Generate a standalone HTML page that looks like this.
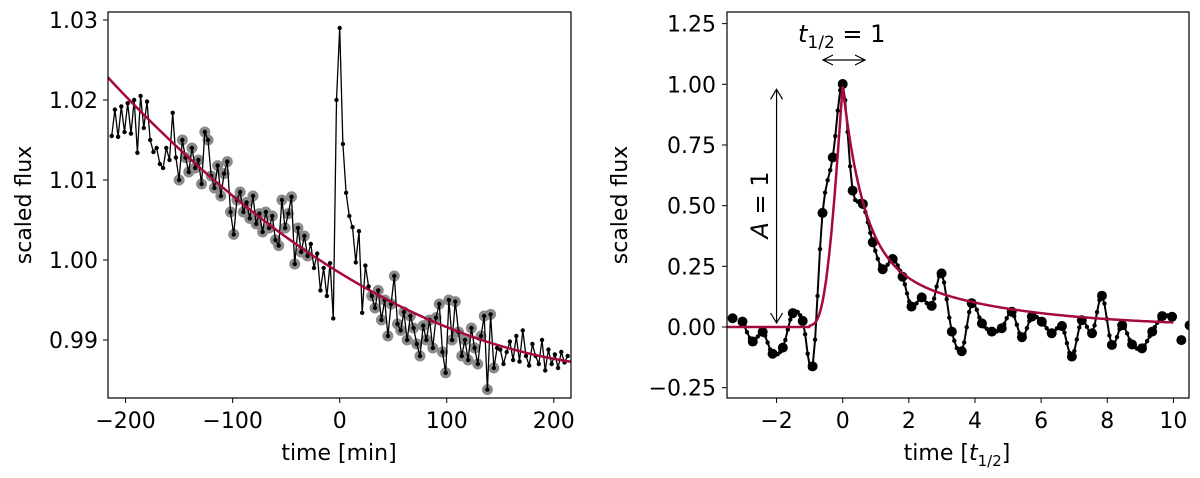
<!DOCTYPE html>
<html><head><meta charset="utf-8"><style>
html,body{margin:0;padding:0;background:#fff;}
svg{display:block;font-family:"DejaVu Sans","Liberation Sans",sans-serif;}
</style></head><body>
<svg id="fig" width="1200" height="478" viewBox="0 0 1200 478" xmlns="http://www.w3.org/2000/svg">
<g id="left"></g>
<g id="right"></g>
</svg>
<script>
// ---------- LEFT PANEL DATA ----------
const leftStart = -213, leftStep = 3;
const leftFlux = [
1.0155,1.0188,1.0154,1.0192,1.0160,1.0196,1.0158,1.0200,1.0134,1.0205,
1.0165,1.0198,1.0150,1.0135,1.0140,1.0120,1.0115,1.0140,1.0125,1.0184,
1.0128,1.0100,1.0150,1.0128,1.0110,1.0140,1.0115,1.0125,1.0095,1.0160,
1.0150,1.0105,1.0090,1.0118,1.0080,1.0108,1.0123,1.0060,1.0032,1.0075,
1.0085,1.0060,1.0072,1.0052,1.0080,1.0045,1.0058,1.0035,1.0060,1.0040,
1.0055,1.0025,1.0018,1.0075,1.0040,1.0058,1.0079,0.9995,1.0040,1.0010,
1.0030,1.0005,1.0020,0.9990,1.0008,0.9962,0.9990,0.9955,0.9996,0.9927,
1.0200,1.0290,1.0145,1.0084,1.0055,1.0041,0.9997,1.0036,0.9934,0.9993,
0.9967,0.9955,0.9940,0.9962,0.9925,0.9950,0.9905,0.9945,0.9980,0.9920,
0.9912,0.9935,0.9900,0.9930,0.9915,0.9895,0.9880,0.9918,0.9900,0.9925,
0.9890,0.9928,0.9945,0.9885,0.9859,0.9950,0.9900,0.9948,0.9910,0.9880,
0.9900,0.9875,0.9915,0.9890,0.9870,0.9905,0.9930,0.9838,0.9932,0.9865,
0.9890,0.9888,0.9870,0.9885,0.9898,0.9875,0.9905,0.9873,0.9912,0.9880,
0.9868,0.9895,0.9880,0.9870,0.9900,0.9862,0.9888,0.9870,0.9882,0.9865,
0.9885,0.9872,0.9880];
const highlightRanges = [[-150,-30],[28,145]];
const trendCoef = [0.9984, -8.21e-5, 1.417e-7];
const leftXTicks = [-200,-100,0,100,200];
const leftXTickLabels = ["\u2212200","\u2212100","0","100","200"];
const leftYTicks = [0.99,1.00,1.01,1.02,1.03];
const leftYTickLabels = ["0.99","1.00","1.01","1.02","1.03"];

// ---------- RIGHT PANEL DATA ----------
const rightTimes = [-3.33,-3.03,-2.72,-2.42,-2.12,-1.81,-1.51,-1.21,-0.91,-0.61,-0.30,0,0.30,0.61,0.91,1.21,1.51,1.81,2.08,2.39,2.69,2.99,3.30,3.60,3.90,4.21,4.51,4.81,5.11,5.42,5.72,6.02,6.32,6.63,6.93,7.23,7.54,7.84,8.14,8.45,8.75,9.05,9.36,9.66,9.96,10.24,10.49];
const rightFlux = [0.036,0.022,-0.060,-0.020,-0.110,-0.085,0.057,0.025,-0.162,0.470,0.699,1.001,0.562,0.507,0.349,0.238,0.280,0.207,0.084,0.122,0.087,0.221,-0.019,-0.100,0.098,0.015,-0.019,-0.005,0.063,-0.042,0.043,0.022,-0.026,0.004,-0.122,0.028,-0.026,0.129,-0.074,0.007,-0.072,-0.088,-0.019,0.045,0.042,-0.054,0.007];
const riseCoef = [1, 1.941, -0.175, -2.246, -1.125];
const decayCoef = [0.6890, -1.600, 0.3030, -0.2783];
const rightXTicks = [-2,0,2,4,6,8,10];
const rightXTickLabels = ["\u22122","0","2","4","6","8","10"];
const rightYTicks = [-0.25,0,0.25,0.5,0.75,1.0,1.25];
const rightYTickLabels = ["\u22120.25","0.00","0.25","0.50","0.75","1.00","1.25"];

const NS="http://www.w3.org/2000/svg";
function mk(parent,tag,attrs,text){const e=document.createElementNS(NS,tag);for(const k in attrs)e.setAttribute(k,attrs[k]);if(text!==undefined)e.textContent=text;parent.appendChild(e);return e;}

// ---------- LEFT ----------
(function(){
const g=document.getElementById('left');
const L=108,R=571,T=12,B=398;
const xs=t=>339.7+1.0705*t;
const ys=v=>340-(v-0.99)*8000;
const defs=mk(document.getElementById('fig'),'defs',{});
const cp=mk(defs,'clipPath',{id:'clipL'});mk(cp,'rect',{x:L,y:T,width:R-L,height:B-T});
const dg=mk(g,'g',{'clip-path':'url(#clipL)'});


leftFlux.forEach((v,i)=>{const t=leftStart+leftStep*i;
 if(highlightRanges.some(r=>t>=r[0]&&t<=r[1])){
  const c=mk(dg,'circle',{cx:xs(t),cy:ys(v),r:5.5,fill:'#8a8a8a'});
  
  
 }});
const pts=leftFlux.map((v,i)=>xs(leftStart+leftStep*i).toFixed(1)+','+ys(v).toFixed(1)).join(' ');
const pl=mk(dg,'polyline',{points:pts,fill:'none',stroke:'#000','stroke-width':1.3});


leftFlux.forEach((v,i)=>{const c=mk(dg,'circle',{cx:xs(leftStart+leftStep*i),cy:ys(v),r:2.2,fill:'#000'});
 
 });
let d='';for(let t=-220;t<=220;t+=2){const v=trendCoef[0]+trendCoef[1]*t+trendCoef[2]*t*t;d+=(d?'L':'M')+xs(t).toFixed(1)+','+ys(v).toFixed(1);}
const tr=mk(dg,'path',{d:d,fill:'none',stroke:'#a50a3c','stroke-width':2.5});


const fr=mk(g,'rect',{x:L,y:T,width:R-L,height:B-T,fill:'none',stroke:'#000','stroke-width':1.2});


leftXTicks.forEach((t,i)=>{const x=xs(t);mk(g,'line',{x1:x,x2:x,y1:B,y2:B+5,stroke:'#000','stroke-width':1});
 const tx=mk(g,'text',{x:x,y:428,'font-size':22,'text-anchor':'middle'},leftXTickLabels[i]);
 
 });
leftYTicks.forEach((v,i)=>{const y=ys(v);mk(g,'line',{x1:L-5,x2:L,y1:y,y2:y,stroke:'#000','stroke-width':1});
 const tx=mk(g,'text',{x:98,y:y+8,'font-size':22,'text-anchor':'end'},leftYTickLabels[i]);
 
 });
const xl=mk(g,'text',{x:339,y:460,'font-size':22,'text-anchor':'middle'},'time [min]');


const yl=mk(g,'text',{x:0,y:0,'font-size':22,'text-anchor':'middle',transform:'translate(31,205) rotate(-90)'},'scaled flux');


})();

// ---------- RIGHT ----------
(function(){
const g=document.getElementById('right');
const L=727,R=1189,T=12,B=398;
const xs=t=>842.7+33.07*t;
const ys=v=>327-242.7*v;
const defs=document.querySelector('defs');
const cp=mk(defs,'clipPath',{id:'clipR'});mk(cp,'rect',{x:L,y:T,width:R-L,height:B-T});
const dg=mk(g,'g',{'clip-path':'url(#clipR)'});


const P=rightTimes.map((t,i)=>[xs(t),ys(rightFlux[i])]);
const i0=1,i1=44;const curve=[];
for(let i=i0;i<i1;i++){const p0=P[Math.max(i-1,i0)],p1=P[i],p2=P[i+1],p3=P[Math.min(i+2,i1)];
 for(let k=0;k<4;k++){const s=k/4,s2=s*s,s3=s2*s;
  const f=(a,b,c,e)=>0.5*(2*b+(-a+c)*s+(2*a-5*b+4*c-e)*s2+(-a+3*b-3*c+e)*s3);
  curve.push([f(p0[0],p1[0],p2[0],p3[0]),f(p0[1],p1[1],p2[1],p3[1])]);}}
curve.push(P[i1]);
const ln=mk(dg,'polyline',{points:curve.map(p=>p[0].toFixed(1)+','+p[1].toFixed(1)).join(' '),fill:'none',stroke:'#000','stroke-width':2});


curve.forEach(p=>{const c=mk(dg,'circle',{cx:p[0],cy:p[1],r:2.2,fill:'#000'});
 
 });
P.forEach(p=>{const c=mk(dg,'circle',{cx:p[0],cy:p[1],r:5,fill:'#000'});
 
 });
let d='';for(let t=-3.5;t<=10.0001;t+=0.02){let v;
 if(t<-1)v=0;else if(t<=0)v=riseCoef[0]+riseCoef[1]*t+riseCoef[2]*t*t+riseCoef[3]*t*t*t+riseCoef[4]*t*t*t*t;
 else v=decayCoef[0]*Math.exp(decayCoef[1]*t)+decayCoef[2]*Math.exp(decayCoef[3]*t);
 d+=(d?'L':'M')+xs(t).toFixed(1)+','+ys(Math.max(v,0)).toFixed(1);}
const md=mk(dg,'path',{d:d,fill:'none',stroke:'#a50a3c','stroke-width':2.5});


const fr=mk(g,'rect',{x:L,y:T,width:R-L,height:B-T,fill:'none',stroke:'#000','stroke-width':1.2});


rightXTicks.forEach((t,i)=>{const x=xs(t);mk(g,'line',{x1:x,x2:x,y1:B,y2:B+5,stroke:'#000','stroke-width':1});
 const tx=mk(g,'text',{x:x,y:428,'font-size':22,'text-anchor':'middle'},rightXTickLabels[i]);
 
 });
rightYTicks.forEach((v,i)=>{const y=ys(v);mk(g,'line',{x1:L-5,x2:L,y1:y,y2:y,stroke:'#000','stroke-width':1});
 const tx=mk(g,'text',{x:716,y:y+8,'font-size':22,'text-anchor':'end'},rightYTickLabels[i]);
 
 });
const xl=mk(g,'text',{x:957,y:460,'font-size':22,'text-anchor':'middle'});


xl.innerHTML='time [<tspan font-style="italic">t</tspan><tspan font-size="15" dy="6">1/2</tspan><tspan dy="-6">]</tspan>';
const yl=mk(g,'text',{x:0,y:0,'font-size':22,'text-anchor':'middle',transform:'translate(627,205) rotate(-90)'},'scaled flux');


const ax=xs(-2),ay0=ys(0)-4,ay1=ys(1)+5;
const va=mk(g,'g',{stroke:'#000','stroke-width':1.2,fill:'none'});


mk(va,'line',{x1:ax,x2:ax,y1:ay1,y2:ay0});
mk(va,'polyline',{points:`${ax-6},${ay1+10} ${ax},${ay1} ${ax+6},${ay1+10}`});
mk(va,'polyline',{points:`${ax-6},${ay0-10} ${ax},${ay0} ${ax+6},${ay0-10}`});
const at=mk(g,'text',{x:0,y:0,'font-size':24,'text-anchor':'middle',transform:'translate(768,205) rotate(-90)'});


at.innerHTML='<tspan font-style="italic">A</tspan> = 1';
const hx0=823,hx1=865,hy=60;
const ha=mk(g,'g',{stroke:'#000','stroke-width':1.2,fill:'none'});


mk(ha,'line',{x1:hx0,x2:hx1,y1:hy,y2:hy});
mk(ha,'polyline',{points:`${hx0+10},${hy-5} ${hx0},${hy} ${hx0+10},${hy+5}`});
mk(ha,'polyline',{points:`${hx1-10},${hy-5} ${hx1},${hy} ${hx1-10},${hy+5}`});
const ht=mk(g,'text',{x:798,y:42,'font-size':24});


ht.innerHTML='<tspan font-style="italic">t</tspan><tspan font-size="17" dy="6">1/2</tspan><tspan dy="-6"> = 1</tspan>';
})();
</script>
</body></html>
